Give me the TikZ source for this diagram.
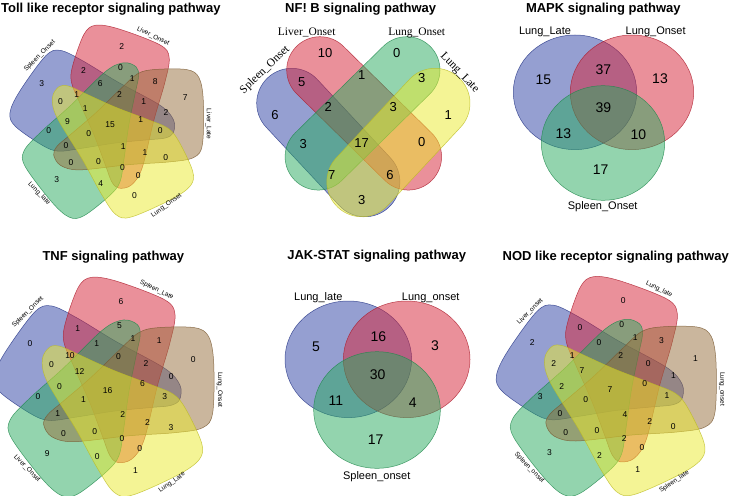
\documentclass[tikz,border=0pt]{standalone}
\usepackage{fontspec}
\setmainfont{Liberation Sans}
\newfontfamily\serifnames{Liberation Serif}
\definecolor{vblue}{RGB}{45,65,165}
\definecolor{vred}{RGB}{215,35,55}
\definecolor{vgreen}{RGB}{40,170,95}
\definecolor{vyellow}{RGB}{235,235,45}
\definecolor{vbrown}{RGB}{150,110,60}
% one five-set petal (the right-hand one), turned for the other four
\newcommand{\petalpath}{plot[smooth cycle, tension=0.55] coordinates {(-64,-34) (-56,-46) (-34,-51) (22,-45) (67,-42) (95,-37) (105,-22) (106,28) (101,54) (87,63) (50,63) (31,58) (11,40) (-17,13) (-45,-11) (-60,-24)}}
% centres of the 31 five-set regions
\def\regx{{13.2,-30,11.8,-77.7,-11,25.3,51.5,85.5,-56.3,-37.7,10.8,38.2,-28,63.5,-48.3,0,34.8,-69.7,57,-50,-24.2,15,39.8,63.2,-44.2,-13,14.2,32,-60.5,-10.5,27.8}}
\def\regy{{89.3,62.3,65.3,47.3,47,52.3,49.7,31.3,26.3,34.7,34.3,26.7,19,14,3.7,0,6.7,-6.3,-6,-23.3,-9.3,-24.3,-31.8,-36.7,-42.7,-41,-48.3,-57.7,-62.5,-66,-80}}

\begin{document}
\begin{tikzpicture}[x=1pt, y=-1pt, every node/.style={font=\fontsize{8}{9}\selectfont, inner sep=0pt},
	title/.style={font=\bfseries\fontsize{13}{15}\selectfont, anchor=base},
	setfill/.style={draw=#1!80!black, draw opacity=0.8, fill=#1, fill opacity=0.5, line width=0.5pt},
	num/.style={font=\fontsize{8.5}{10}\selectfont},
	setlab/.style={font=\fontsize{6.5}{8}\selectfont},
	bignum/.style={font=\fontsize{14}{16}\selectfont},
	midnum/.style={font=\fontsize{13}{15}\selectfont},
	lab/.style={font=\fontsize{11}{13}\selectfont, anchor=base},
	serlab/.style={font=\serifnames\fontsize{11.5}{13}\selectfont, anchor=base}]
	\fill[white] (0,0) rectangle (733,495);
	\useasboundingbox (0,0) rectangle (733,495);

	% Toll like receptor
	\node[title] (toll) at (110.8,12.3) {Toll like receptor signaling pathway};
	\begin{scope}[shift={(110,125)}, y=1pt, scale=0.88]
		\foreach \a/\c in {145/vblue, 70/vred, 218/vgreen, 0/vbrown, -65/vyellow}
			\draw[setfill=\c, rotate=\a] \petalpath;
		\foreach \v [count=\i from 0] in {2,2,0,3,6,1,8,7,0,1,2,1,1,2,9,15,1,0,0,0,0,1,1,0,0,0,0,0,3,4,0}
			{\pgfmathsetmacro\px{\regx[\i]}\pgfmathsetmacro\py{\regy[\i]}
			\node[num] (toll-\i) at (\px,\py) {\v};}
		\foreach \a/\r/\t [count=\i] in {135.5/45/Spleen\_Onset, 64/-26/Liver\_Onset, 0.5/-90/Liver\_Late, -55/35/Lung\_Onset, -136/-46/Lung\_late}
			\node[setlab, rotate=\r] (toll-set\i) at (\a:112) {\t};
	\end{scope}

	% NF B
	\node[title] (nfkb) at (360.7,12.3) {NF! B signaling pathway};
	\foreach \x/\y/\a/\l/\r/\c in {291.7/103.3/-47/107.3/35/vblue, 320/70/-44.5/123.8/33.3/vred, 406.7/70/-135.5/123.8/33.3/vgreen, 435/103.3/-133/107.3/35/vyellow}
		\draw[setfill=\c, shift={(\x,\y)}, rotate=\a, rounded corners=\r pt] (-\r,-\r) rectangle (\l+\r,\r);
	\foreach \x/\y/\v [count=\i] in {325/53.3/10, 396.7/53.3/0, 301.7/81.7/5, 361.7/75/1, 421.7/78.3/3, 275/115/6, 328.3/106.7/2, 393.3/106.7/3, 448.3/115/1, 303.3/144/3, 361.7/143.3/17, 421.7/141.7/0, 331.7/175/7, 390/175/6, 361.7/200/3}
		\node[midnum] (nfkb-\i) at (\x,\y) {\v};
	\node[serlab] (nfkb-b) at (306.7,35.3) {Liver\_Onset};
	\node[serlab] (nfkb-c) at (416.7,35.3) {Lung\_Onset};
	\node[serlab, anchor=center, rotate=44] (nfkb-a) at (265,70) {Spleen\_Onset};
	\node[serlab, anchor=center, rotate=-46] (nfkb-d) at (459.5,73) {Lung\_Late};

	% MAPK
	\node[title] (mapk) at (603.3,12.3) {MAPK signaling pathway};
	\foreach \x/\y/\c in {575/92.3/vblue, 632/92.3/vred, 603/143/vgreen}
		\draw[setfill=\c] (\x,\y) ellipse[x radius=61.7, y radius=57.3];
	\foreach \x/\y/\v [count=\i] in {543.3/80/15, 603.3/70/37, 660/79/13, 603.3/107.3/39, 563.3/133.3/13, 638.3/134.3/10, 600.7/170/17}
		\node[bignum] (mapk-\i) at (\x,\y) {\v};
	\node[lab] (mapk-a) at (545,35) {Lung\_Late};
	\node[lab] (mapk-b) at (655.7,35) {Lung\_Onset};
	\node[lab] (mapk-c) at (602.7,209.3) {Spleen\_Onset};

	% TNF
	\node[title] (tnf) at (113.3,260) {TNF signaling pathway};
	\begin{scope}[shift={(107.7,390.7)}, y=1pt]
		\foreach \a/\c in {145/vblue, 70/vred, 218/vgreen, 0/vbrown, -65/vyellow}
			\draw[setfill=\c, rotate=\a] \petalpath;
		\foreach \v [count=\i from 0] in {6,1,5,0,1,1,1,0,0,10,0,2,12,0,0,16,6,0,3,1,1,2,2,3,0,0,0,0,9,0,1}
			{\pgfmathsetmacro\px{\regx[\i]}\pgfmathsetmacro\py{\regy[\i]}
			\node[num] (tnf-\i) at (\px,\py) {\v};}
		\foreach \a/\r/\t [count=\i] in {135.5/45/Spleen\_Onset, 64/-26/Spleen\_Late, 0.5/-90/Lung\_Onset, -55/35/Lung\_Late, -136/-46/Liver\_Onset}
			\node[setlab, rotate=\r] (tnf-set\i) at (\a:112) {\t};
	\end{scope}

	% JAK-STAT
	\node[title] (jak) at (376.7,259.3) {JAK-STAT signaling pathway};
	\foreach \x/\y/\c in {348.3/359.3/vblue, 406.7/359.3/vred, 377/410/vgreen}
		\draw[setfill=\c] (\x,\y) ellipse[x radius=63.3, y radius=58.3];
	\foreach \x/\y/\v [count=\i] in {316/346.7/5, 378.3/336.7/16, 435/346/3, 377.7/375/30, 336/401/11, 412.7/402.7/4, 375.7/439.3/17}
		\node[bignum] (jak-\i) at (\x,\y) {\v};
	\node[lab] (jak-a) at (318.3,300.7) {Lung\_late};
	\node[lab] (jak-b) at (430.7,300.7) {Lung\_onset};
	\node[lab] (jak-c) at (376.7,479.3) {Spleen\_onset};

	% NOD like receptor
	\node[title] (nod) at (615.7,260) {NOD like receptor signaling pathway};
	\begin{scope}[shift={(610,390)}, y=1pt]
		\foreach \a/\c in {145/vblue, 70/vred, 218/vgreen, 0/vbrown, -65/vyellow}
			\draw[setfill=\c, rotate=\a] \petalpath;
		\foreach \v [count=\i from 0] in {0,0,0,2,0,1,3,1,2,1,2,0,7,1,2,7,0,3,1,0,0,4,2,0,0,0,2,0,3,2,1}
			{\pgfmathsetmacro\px{\regx[\i]}\pgfmathsetmacro\py{\regy[\i]}
			\node[num] (nod-\i) at (\px,\py) {\v};}
		\foreach \a/\r/\t [count=\i] in {135.5/45/Liver\_onset, 64/-26/Lung\_late, 0.5/-90/Lung\_onset, -55/35/Spleen\_late, -136/-46/Spleen\_onset}
			\node[setlab, rotate=\r] (nod-set\i) at (\a:112) {\t};
	\end{scope}
\end{tikzpicture}
\end{document}
